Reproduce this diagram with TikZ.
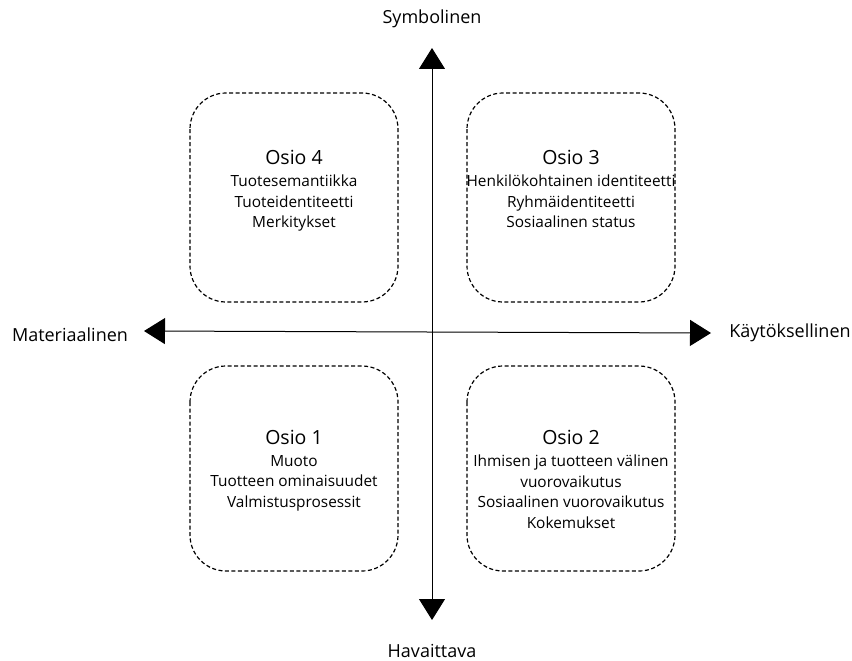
\documentclass[tikz,border=0pt]{standalone}
\usepackage{fontspec}
\setmainfont{Open Sans}
\usetikzlibrary{arrows.meta}
\begin{document}
\begin{tikzpicture}[x=1pt,y=-1pt,
  quad/.style={draw, line width=1.2pt, rounded corners=36pt, dash pattern=on 4pt off 2.5pt},
  title/.style={font=\fontsize{19.5}{23}\selectfont, inner sep=0pt},
  body/.style={font=\fontsize{15.4}{20.5}\selectfont, align=center, inner sep=0pt, anchor=north},
  axislabel/.style={font=\fontsize{18}{22}\selectfont, inner sep=0pt},
  axis/.style={line width=1pt, {Triangle[width=26pt,length=21pt]}-{Triangle[width=26pt,length=21pt]}}]
\useasboundingbox (0,0) rectangle (852,661);
% boxes
\draw[quad] (190,93) rectangle (398,302);
\draw[quad] (467,93) rectangle (675,302);
\draw[quad] (190,366) rectangle (398,571);
\draw[quad] (467,366) rectangle (675,571);
% axes
\coordinate (top) at (432,48);
\coordinate (bottom) at (432,620);
\coordinate (left) at (144,331);
\coordinate (right) at (711,333);
\draw[axis] (bottom) -- (top);
\draw[axis] (left) -- (right);
% axis labels
\node[axislabel] (sym) at (432,19) {Symbolinen};
\node[axislabel] (hav) at (432,651) {Havaittava};
\node[axislabel] (mat) at (70,335) {Materiaalinen};
\node[axislabel] (kay) at (790,333) {Käytöksellinen};
% texts
\node[title] (o4) at (294,157) {Osio 4};
\node[body] (t4) at (294,175) {Tuotesemantiikka\\Tuoteidentiteetti\\Merkitykset};
\node[title] (o3) at (571,157) {Osio 3};
\node[body] (t3) at (571,175) {Henkilökohtainen identiteetti\\Ryhmäidentiteetti\\Sosiaalinen status};
\node[title] (o1) at (294,437) {Osio 1};
\node[body] (t1) at (294,455) {Muoto\\Tuotteen ominaisuudet\\Valmistusprosessit};
\node[title] (o2) at (571,437) {Osio 2};
\node[body] (t2) at (571,455) {Ihmisen ja tuotteen välinen\\vuorovaikutus\\Sosiaalinen vuorovaikutus\\Kokemukset};
\end{tikzpicture}
\end{document}
